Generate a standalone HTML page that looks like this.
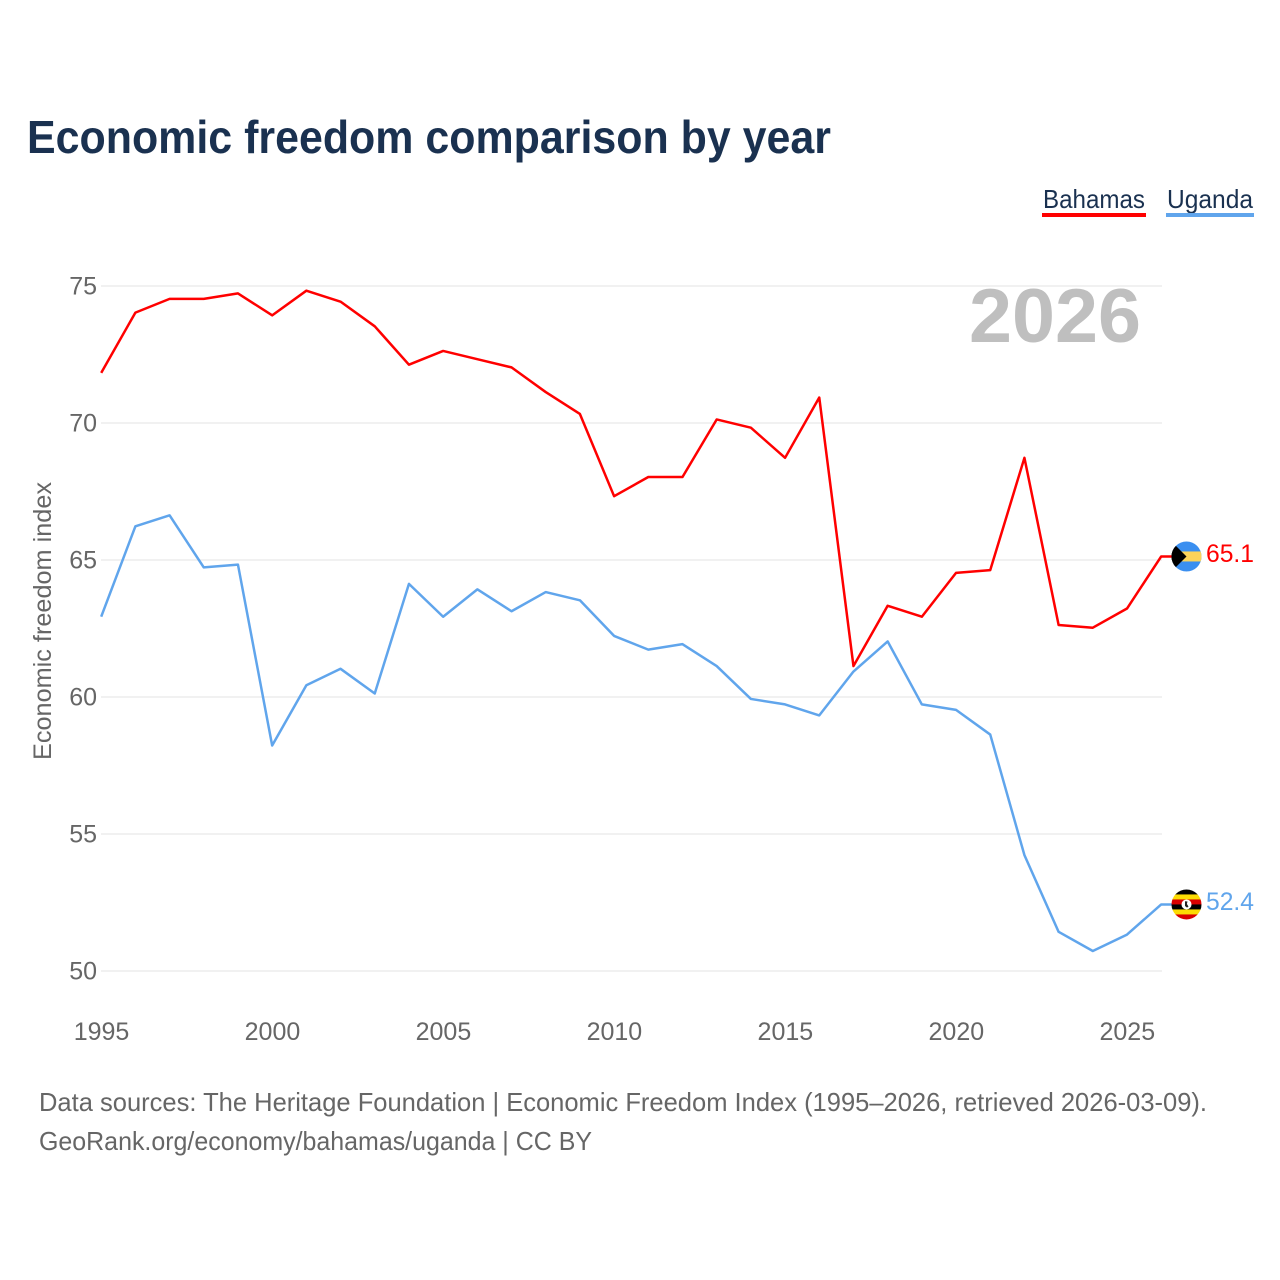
<!DOCTYPE html>
<html lang="en">
<head>
<meta charset="utf-8">
<title>Economic freedom comparison by year</title>
<style>
html,body{margin:0;padding:0;background:#fff;width:1280px;height:1280px;overflow:hidden}
svg{display:block;font-family:"Liberation Sans",sans-serif}
</style>
</head>
<body>
<svg id="chart" xmlns="http://www.w3.org/2000/svg" width="1280" height="1280" viewBox="0 0 1280 1280">
  <defs>
    <clipPath id="flag-clip"><circle cx="0" cy="0" r="15"/></clipPath>
  </defs>
  <rect x="0" y="0" width="1280" height="1280" fill="#fff"/>
  <text x="27" y="153" font-size="46" font-weight="700" fill="#1a3150" textLength="804" lengthAdjust="spacingAndGlyphs">Economic freedom comparison by year</text>

  <g>
    <g>
      <text x="1043" y="208" font-size="26" fill="#1a3150" textLength="102" lengthAdjust="spacingAndGlyphs">Bahamas</text>
      <rect x="1042" y="213" width="104" height="4" fill="#ff0000"/>
    </g>
    <g>
      <text x="1167" y="208" font-size="26" fill="#1a3150" textLength="86" lengthAdjust="spacingAndGlyphs">Uganda</text>
      <rect x="1166" y="213" width="88" height="4" fill="#60a5ec"/>
    </g>
  </g>

  <g id="grid"></g>
  <text x="969" y="342" font-size="76" font-weight="700" fill="#bfbfbf" textLength="172" lengthAdjust="spacingAndGlyphs">2026</text>
  <g id="y-ticks"></g>
  <g id="x-ticks"></g>
  <text transform="translate(51,621) rotate(-90)" text-anchor="middle" font-size="25" fill="#666" textLength="278" lengthAdjust="spacingAndGlyphs">Economic freedom index</text>
  <g id="series"></g>

  <text x="39" y="1111" font-size="26" fill="#666" textLength="1168" lengthAdjust="spacingAndGlyphs">Data sources: The Heritage Foundation | Economic Freedom Index (1995–2026, retrieved 2026-03-09).</text>
  <text x="39" y="1150" font-size="26" fill="#666" textLength="553" lengthAdjust="spacingAndGlyphs">GeoRank.org/economy/bahamas/uganda | CC BY</text>
</svg>
<script>
const years = [1995,1996,1997,1998,1999,2000,2001,2002,2003,2004,2005,2006,2007,2008,2009,2010,2011,2012,2013,2014,2015,2016,2017,2018,2019,2020,2021,2022,2023,2024,2025,2026];
const bahamas = [71.8,74.0,74.5,74.5,74.7,73.9,74.8,74.4,73.5,72.1,72.6,72.3,72.0,71.1,70.3,67.3,68.0,68.0,70.1,69.8,68.7,70.9,61.1,63.3,62.9,64.5,64.6,68.7,62.6,62.5,63.2,65.1];
const uganda = [62.9,66.2,66.6,64.7,64.8,58.2,60.4,61.0,60.1,64.1,62.9,63.9,63.1,63.8,63.5,62.2,61.7,61.9,61.1,59.9,59.7,59.3,60.9,62.0,59.7,59.5,58.6,54.2,51.4,50.7,51.3,52.4];
const yTickValues = [50,55,60,65,70,75];
const xTickValues = [1995,2000,2005,2010,2015,2020,2025];

const NS = 'http://www.w3.org/2000/svg';
const xScale = function (year) { return 101.2 + (year - 1995) * (1060 / 31); };
const yScale = function (value) { return 971 - (value - 50) * 27.4; };
const lineYOffset = -0.8;

function make(tag, parent, attrs, text) {
  const el = document.createElementNS(NS, tag);
  Object.keys(attrs).forEach(function (k) { el.setAttribute(k, attrs[k]); });
  if (text !== undefined) el.textContent = text;
  parent.appendChild(el);
  return el;
}

const gridGroup = document.getElementById('grid');
const yGroup = document.getElementById('y-ticks');
yTickValues.forEach(function (v) {
  const line = make('line', gridGroup, {x1: 101, x2: 1162, y1: yScale(v), y2: yScale(v), stroke: '#f1f1f1', 'stroke-width': 2});
  
  
  const label = make('text', yGroup, {x: 97, y: yScale(v) + 8.5, 'text-anchor': 'end', 'font-size': 25, fill: '#666'}, String(v));
  
  
});

const xGroup = document.getElementById('x-ticks');
xTickValues.forEach(function (yr) {
  const label = make('text', xGroup, {x: xScale(yr) + 0.3, y: 1040, 'text-anchor': 'middle', 'font-size': 25, fill: '#666'}, String(yr));
  
  
});

const seriesGroup = document.getElementById('series');

function drawLine(values, color, name) {
  const pts = values.map(function (v, i) { return xScale(years[i]).toFixed(2) + ',' + (yScale(v) + lineYOffset).toFixed(2); });
  const lastY = yScale(values[values.length - 1]) + lineYOffset;
  pts.push('1172,' + lastY.toFixed(2));
  const line = make('polyline', seriesGroup, {points: pts.join(' '), fill: 'none', stroke: color, 'stroke-width': 2.5, 'stroke-linejoin': 'round'});
  
  
  return lastY;
}

function drawEndLabel(value, color, name, y) {
  const label = make('text', seriesGroup, {x: 1206, y: y + 5.5, 'font-size': 25, fill: color, textLength: 48, lengthAdjust: 'spacingAndGlyphs'}, value.toFixed(1));
  
  
}

/* Bahamas */
const bahamasY = drawLine(bahamas, '#ff0000', 'bahamas');
const bahamasFlag = make('g', seriesGroup, {transform: 'translate(1186.5,' + bahamasY + ')', 'clip-path': 'url(#flag-clip)'});


make('rect', bahamasFlag, {x: -15, y: -15, width: 30, height: 30, fill: '#3a8ff0'});
make('rect', bahamasFlag, {x: -15, y: -5, width: 30, height: 10, fill: '#fbd35a'});
make('polygon', bahamasFlag, {points: '-15,-15 0,0 -15,15', fill: '#000'});
make('rect', bahamasFlag, {x: -15, y: -12, width: 3, height: 24, fill: '#000'});
drawEndLabel(bahamas[bahamas.length - 1], '#ff0000', 'bahamas', bahamasY);

/* Uganda */
const ugandaY = drawLine(uganda, '#60a5ec', 'uganda');
const ugandaFlag = make('g', seriesGroup, {transform: 'translate(1186.5,' + ugandaY + ')', 'clip-path': 'url(#flag-clip)'});


['#000000', '#fcdc04', '#d90000', '#000000', '#fcdc04', '#d90000'].forEach(function (c, i) {
  make('rect', ugandaFlag, {x: -15, y: -15 + i * 5, width: 30, height: 5.2, fill: c});
});
make('circle', ugandaFlag, {cx: 0, cy: 0, r: 5, fill: '#fff'});
make('path', ugandaFlag, {d: 'M-1.5,-3.2 L1,-3 L0.4,-0.5 L2,2 L0.5,3.2 L-1.5,1.5 Z', fill: '#222'});
drawEndLabel(uganda[uganda.length - 1], '#60a5ec', 'uganda', ugandaY);
</script>
</body>
</html>
